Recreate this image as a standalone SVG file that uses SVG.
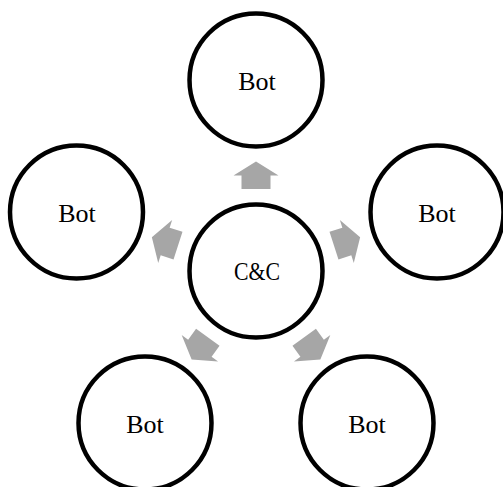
<svg xmlns="http://www.w3.org/2000/svg" width="503" height="487" viewBox="0 0 503 487">
<defs>
<style>
.node circle{fill:#fff;stroke:#000;stroke-width:4.5}
.node text{font-family:"Liberation Serif",serif;font-size:26px;fill:#000;text-anchor:middle}
.arr{fill:#A6A6A6}
</style>
<path id="ar" d="M82,-14.5 L95.5,-14.5 L95.5,-22.5 L109.5,0 L95.5,22.5 L95.5,14.5 L82,14.5 Z"/>
</defs>
<rect width="503" height="487" fill="#fff"/>
<g id="connectors" class="arr" transform="translate(256,271)">
<use href="#ar" transform="rotate(-90)"/>
<use href="#ar" transform="rotate(-18)"/>
<use href="#ar" transform="rotate(54)"/>
<use href="#ar" transform="rotate(126)"/>
<use href="#ar" transform="rotate(198)"/>
</g>
<g id="cc" class="node"><circle cx="256" cy="271" r="66.5"/><text x="257" y="280" textLength="46" lengthAdjust="spacingAndGlyphs">C&amp;C</text></g>
<g id="bot-top" class="node"><circle cx="256" cy="80" r="66.5"/><text x="257" y="90">Bot</text></g>
<g id="bot-right" class="node"><circle cx="437" cy="212" r="66.5"/><text x="437" y="222">Bot</text></g>
<g id="bot-left" class="node"><circle cx="76.5" cy="212" r="66.5"/><text x="77" y="222">Bot</text></g>
<g id="bot-bottom-right" class="node"><circle cx="367" cy="423" r="66.5"/><text x="367" y="433">Bot</text></g>
<g id="bot-bottom-left" class="node"><circle cx="145" cy="423" r="66.5"/><text x="145" y="433">Bot</text></g>
</svg>
